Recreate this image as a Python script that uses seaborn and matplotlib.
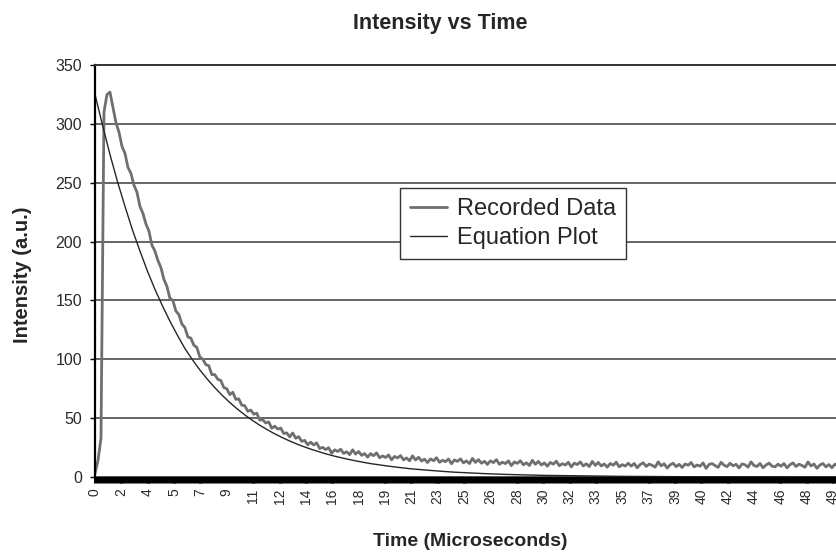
import numpy as np
import matplotlib
matplotlib.use("Agg")
import matplotlib.pyplot as plt
import seaborn as sns

# recorded trace, one sample every 0.2 us
recorded_intensity = [
    3, 14, 33, 310, 325, 327, 314, 301, 293, 281,
    275, 263, 258, 248, 242, 230, 224, 215, 209, 197,
    192, 184, 178, 168, 162, 152, 150, 141, 138, 130,
    127, 119, 118, 112, 110, 102, 100, 95.5, 94.5, 87,
    87, 83, 82, 76, 75, 70, 72, 66, 66.4, 61,
    60.6, 55.8, 56.9, 53.4, 54.2, 48.4, 48.6, 45.9, 46.8, 41.4,
    43.2, 40.7, 41.6, 37.0, 37.5, 34.1, 37.4, 32.9, 34.3, 30.3,
    31.1, 27.4, 29.6, 27.2, 29.0, 24.2, 25.2, 23.3, 24.9, 20.2,
    23.1, 21.7, 23.6, 20.0, 21.5, 19.0, 23.1, 19.5, 21.7, 18.4,
    19.9, 16.9, 19.9, 18.1, 20.5, 16.4, 17.9, 16.6, 18.7, 14.6,
    17.5, 16.2, 18.2, 14.6, 16.2, 13.8, 18.0, 14.5, 16.8, 13.6,
    15.2, 12.3, 15.4, 13.8, 16.4, 12.5, 14.2, 13.0, 15.3, 11.3,
    14.5, 13.3, 15.4, 12.0, 13.7, 11.4, 15.8, 12.4, 14.8, 11.7,
    13.4, 10.7, 13.8, 12.2, 14.8, 10.8, 12.6, 11.4, 13.7, 9.7,
    12.8, 11.6, 13.8, 10.4, 12.1, 9.8, 14.2, 10.8, 13.3, 10.2,
    12.0, 9.2, 12.4, 10.9, 13.5, 9.6, 11.3, 10.2, 12.5, 8.6,
    11.8, 10.6, 12.8, 9.4, 11.2, 8.9, 13.3, 9.9, 12.4, 9.4,
    11.1, 8.4, 11.5, 10.0, 12.6, 8.7, 10.5, 9.3, 11.7, 9.3,
    11.5, 7.9, 10.6, 12.1, 9.0, 11.0, 9.9, 8.4, 12.9, 9.5,
    11.3, 7.6, 10.4, 11.7, 8.8, 10.8, 8.1, 11.1, 10.0, 12.3,
    8.6, 10.2, 9.2, 12.0, 7.3, 10.7, 11.4, 9.7, 8.2, 12.5,
    10.0, 8.8, 11.7, 9.5, 10.8, 7.7, 11.1, 10.4, 8.4, 12.9,
    9.7, 9.0, 11.5, 7.9, 10.2, 11.8, 9.3, 8.6, 10.9, 9.2,
    11.4, 7.8, 10.5, 12.0, 8.9, 10.9, 9.8, 8.3, 12.8, 9.4,
    11.1, 7.4, 10.2, 11.5, 8.6, 10.6, 7.9, 10.9, 9.8, 12.1,
    8.4, 10.0, 9.0, 11.8, 7.1, 10.5, 11.2, 9.5, 8.0, 12.3,
    9.9,
]
sample_step = 0.2
recorded_time = np.round(np.arange(len(recorded_intensity)) * sample_step, 1)

# fitted curve
eq_time = [0, 0.5, 1, 1.5, 2, 2.5, 3, 3.5, 4, 4.5, 5, 5.5, 6, 6.5, 7, 7.5,
           8, 8.5, 9, 9.5, 10, 10.5, 11, 11.5, 12, 12.5, 13, 13.5, 14, 14.5,
           15, 15.5, 16, 16.5, 17, 17.5, 18, 18.5, 19, 19.5, 20,
           21, 22, 23, 24, 25, 26, 27, 28, 29, 30, 35, 40, 45, 50, 52]
eq_intensity = [325, 299, 274, 251, 230, 210, 192, 175, 159.5, 145.5, 132.5,
                120.5, 109.2, 99.7, 91.0, 83.1, 75.9, 69.3, 63.3, 57.8, 52.8,
                48.2, 44.0, 40.2, 36.7, 33.5, 30.6, 27.9, 25.5, 23.3, 21.3,
                19.4, 17.7, 16.2, 14.8, 13.5, 12.3, 11.2, 10.3, 9.4, 8.6,
                7.1, 6.0, 5.0, 4.1, 3.5, 2.9, 2.4, 2.0, 1.7, 1.4,
                0.6, 0.2, 0.1, 0.0, 0.0]

x_tick_labels = ["0", "2", "4", "5", "7", "9", "11", "12", "14", "16", "18",
                 "19", "21", "23", "25", "26", "28", "30", "32", "33", "35",
                 "37", "39", "40", "42", "44", "46", "48", "49"]
label_step = 1.76

sns.set_theme(style="white")
plt.rcParams["font.family"] = ["Liberation Sans", "DejaVu Sans"]

fig = plt.figure(figsize=(8.37, 5.53), dpi=100)
# plot area runs slightly past the right edge, as in the original
ax = fig.add_axes([0.1135, 0.1374, 0.896, 0.745])

sns.lineplot(x=recorded_time, y=recorded_intensity, ax=ax, estimator=None,
             sort=False, color="#6f6f6f", linewidth=2.0, label="Recorded Data")
sns.lineplot(x=eq_time, y=eq_intensity, ax=ax, estimator=None, sort=False,
             color="#262626", linewidth=1.0, label="Equation Plot")

ax.set_yticks(range(0, 351, 50))
ax.set_xticks(np.arange(len(x_tick_labels)) * label_step)
ax.set_xticklabels(x_tick_labels, rotation=90)
ax.set_xticks(recorded_time, minor=True)
# limits after the ticks, set_xticks would widen them otherwise
ax.set_xlim(0, 50.07)
ax.set_ylim(0, 350)

ax.yaxis.grid(True, color="#585858", linewidth=1.3)
ax.set_axisbelow(True)

ax.tick_params(axis="x", which="both", direction="out", length=4.3,
               width=2.2, color="black", bottom=True)
ax.tick_params(axis="x", which="major", labelsize=10, pad=4,
               labelcolor="#2a2a2a")
ax.tick_params(axis="y", direction="out", length=3.6, width=1.0,
               color="black", left=True, labelsize=11.5, pad=5.8,
               labelcolor="#2a2a2a")

ax.spines["right"].set_visible(False)
ax.spines["left"].set_color("black")
ax.spines["left"].set_linewidth(1.6)
ax.spines["bottom"].set_color("black")
ax.spines["bottom"].set_linewidth(1.0)
ax.spines["top"].set_color("#333333")
ax.spines["top"].set_linewidth(1.4)

ax.set_xlabel("Time (Microseconds)", fontsize=14, fontweight="bold")
ax.xaxis.set_label_coords(0.5, -0.136)
ax.set_ylabel("Intensity (a.u.)", fontsize=14.5, fontweight="bold")
ax.yaxis.set_label_coords(-0.084, 0.49)

fig.suptitle("Intensity vs Time", x=440 / 837, y=1 - 23 / 553, va="center",
             fontsize=15.5, fontweight="bold")

leg = ax.legend(loc="upper left", bbox_to_anchor=(0.4067, 0.7015),
                borderaxespad=0, fontsize=17, frameon=True, fancybox=False,
                handlelength=1.55, handletextpad=0.45, labelspacing=0.3,
                borderpad=0.42)
leg.get_frame().set_edgecolor("#333333")
leg.get_frame().set_linewidth(1.0)
leg.get_frame().set_alpha(1)

plt.savefig("out.png", dpi=100)
